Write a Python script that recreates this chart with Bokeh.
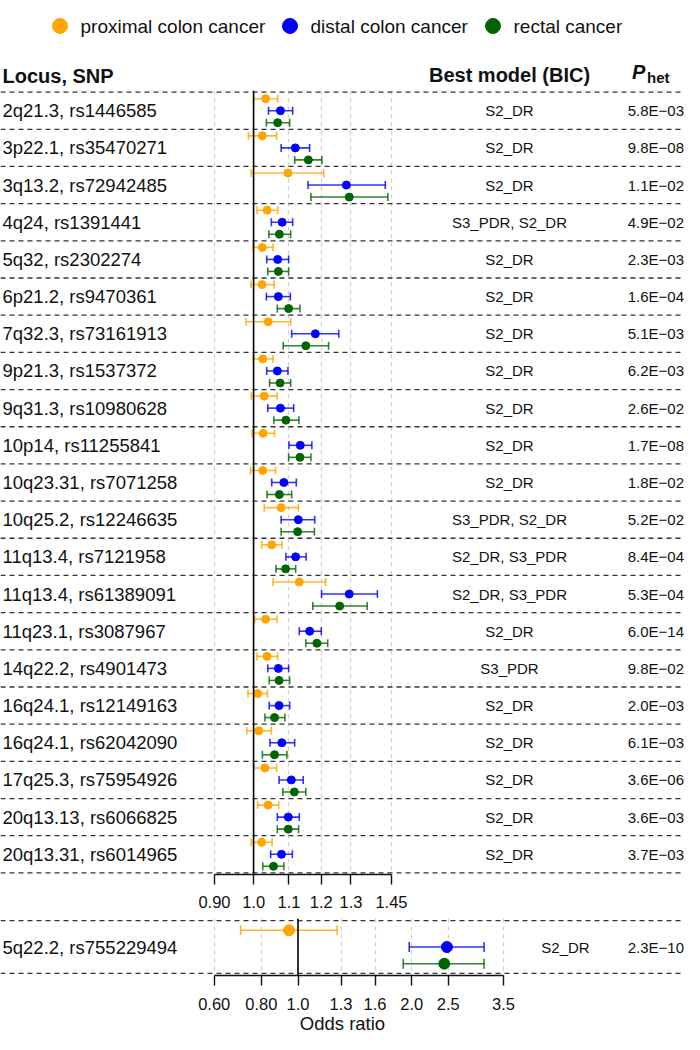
import math
from bokeh.plotting import figure
from bokeh.models import (Range1d, LinearScale, FixedTicker, CustomJSTickFormatter,
                          Span, Whisker, TeeHead, ColumnDataSource)
from bokeh.layouts import column
from bokeh.embed import file_html
from bokeh.resources import INLINE
from bokeh.core.properties import value

# ---------------- data ----------------
series_names = ["proximal colon cancer", "distal colon cancer", "rectal cancer"]
series_colors = ["#FFA500", "#0000FF", "#006400"]

loci = ["2q21.3, rs1446585", "3p22.1, rs35470271", "3q13.2, rs72942485", "4q24, rs1391441",
        "5q32, rs2302274", "6p21.2, rs9470361", "7q32.3, rs73161913", "9p21.3, rs1537372",
        "9q31.3, rs10980628", "10p14, rs11255841", "10q23.31, rs7071258", "10q25.2, rs12246635",
        "11q13.4, rs7121958", "11q13.4, rs61389091", "11q23.1, rs3087967", "14q22.2, rs4901473",
        "16q24.1, rs12149163", "16q24.1, rs62042090", "17q25.3, rs75954926", "20q13.13, rs6066825",
        "20q13.31, rs6014965"]
models = ["S2_DR", "S2_DR", "S2_DR", "S3_PDR, S2_DR", "S2_DR", "S2_DR", "S2_DR", "S2_DR",
          "S2_DR", "S2_DR", "S2_DR", "S3_PDR, S2_DR", "S2_DR, S3_PDR", "S2_DR, S3_PDR", "S2_DR",
          "S3_PDR", "S2_DR", "S2_DR", "S2_DR", "S2_DR", "S2_DR"]
p_het = ["5.8E\u221203", "9.8E\u221208", "1.1E\u221202", "4.9E\u221202", "2.3E\u221203", "1.6E\u221204",
         "5.1E\u221203", "6.2E\u221203", "2.6E\u221202", "1.7E\u221208", "1.8E\u221202", "5.2E\u221202",
         "8.4E\u221204", "5.3E\u221204", "6.0E\u221214", "9.8E\u221202", "2.0E\u221203", "6.1E\u221203",
         "3.6E\u221206", "3.6E\u221203", "3.7E\u221203"]

proximal_or = [1.033, 1.024, 1.097, 1.037, 1.024, 1.023, 1.040, 1.025, 1.029, 1.026, 1.025,
               1.077, 1.050, 1.131, 1.033, 1.037, 1.011, 1.014, 1.031, 1.040, 1.022]
proximal_lo = [1.000, 0.986, 0.994, 1.009, 0.998, 0.993, 0.980, 0.999, 0.994, 0.996, 0.992,
               1.029, 1.022, 1.054, 1.003, 1.009, 0.985, 0.982, 1.000, 1.011, 0.994]
proximal_hi = [1.067, 1.064, 1.208, 1.067, 1.054, 1.057, 1.105, 1.054, 1.065, 1.058, 1.061,
               1.128, 1.079, 1.214, 1.065, 1.067, 1.038, 1.049, 1.064, 1.070, 1.051]

distal_or = [1.075, 1.119, 1.284, 1.080, 1.067, 1.069, 1.181, 1.066, 1.075, 1.134, 1.085,
             1.128, 1.120, 1.294, 1.163, 1.069, 1.071, 1.079, 1.107, 1.098, 1.078]
distal_lo = [1.041, 1.077, 1.158, 1.049, 1.036, 1.035, 1.108, 1.036, 1.039, 1.100, 1.050,
             1.077, 1.091, 1.201, 1.131, 1.039, 1.043, 1.045, 1.071, 1.066, 1.047]
distal_hi = [1.111, 1.163, 1.426, 1.111, 1.099, 1.104, 1.258, 1.097, 1.114, 1.170, 1.122,
             1.179, 1.152, 1.396, 1.200, 1.099, 1.102, 1.117, 1.143, 1.131, 1.110]

rectal_or = [1.067, 1.159, 1.294, 1.072, 1.069, 1.099, 1.151, 1.074, 1.091, 1.133, 1.072,
             1.126, 1.090, 1.261, 1.186, 1.071, 1.058, 1.058, 1.116, 1.098, 1.055]
rectal_lo = [1.035, 1.117, 1.167, 1.042, 1.039, 1.066, 1.083, 1.044, 1.056, 1.099, 1.037,
             1.077, 1.062, 1.173, 1.151, 1.043, 1.031, 1.024, 1.082, 1.066, 1.025]
rectal_hi = [1.102, 1.202, 1.436, 1.105, 1.099, 1.133, 1.224, 1.105, 1.130, 1.167, 1.108,
             1.178, 1.120, 1.358, 1.221, 1.102, 1.088, 1.094, 1.151, 1.129, 1.085]

top_ticks = [0.90, 1.0, 1.1, 1.2, 1.3, 1.45]
top_tick_labels = ["0.90", "1.0", "1.1", "1.2", "1.3", "1.45"]

b_loci = ["5q22.2, rs755229494"]
b_models = ["S2_DR"]
b_p_het = ["2.3E\u221210"]
b_proximal_or, b_proximal_lo, b_proximal_hi = [0.947], [0.705], [1.27]
b_distal_or, b_distal_lo, b_distal_hi = [2.48], [1.97], [3.11]
b_rectal_or, b_rectal_lo, b_rectal_hi = [2.44], [1.90], [3.11]

bottom_ticks = [0.60, 0.80, 1.0, 1.3, 1.6, 2.0, 2.5, 3.5]
bottom_tick_labels = ["0.60", "0.80", "1.0", "1.3", "1.6", "2.0", "2.5", "3.5"]

null_or = 1.0

# ---------------- layout ----------------
W = 684
FONT = "Liberation Sans"
TXT = "#111111"
P_RIGHT = 683.5


def make_panel(labels, mdl, pv, series, ticks, tick_labels, one_x, px_per_ln, row_px,
               frame_h, border_bottom, model_x, pt_size, cap, dy, label_standoff,
               axis_label=None):
    n = len(labels)
    e = (frame_h / row_px - n) / 2.0
    xlo = math.exp(-one_x / px_per_ln)
    xhi = math.exp((W - one_x) / px_per_ln)
    p = figure(frame_width=W, frame_height=frame_h, x_axis_type="log",
               x_range=Range1d(xlo, xhi), y_range=Range1d(n + e, -e),
               output_backend="svg", toolbar_location=None, y_axis_location=None,
               min_border=0, min_border_bottom=border_bottom)
    p.extra_x_ranges = {"px": Range1d(0, W)}
    p.extra_x_scales = {"px": LinearScale()}
    p.outline_line_color = None
    p.background_fill_color = "white"
    p.border_fill_color = "white"

    ax = p.xaxis[0]
    ax.ticker = FixedTicker(ticks=ticks, minor_ticks=[])
    ax.formatter = CustomJSTickFormatter(
        args=dict(tv=ticks, tl=tick_labels),
        code="const i = tv.findIndex(t => Math.abs(t - tick) < 1e-9); return i >= 0 ? tl[i] : '';")
    ax.bounds = (ticks[0], ticks[-1])
    ax.major_tick_out = 10
    ax.major_tick_in = 0
    ax.minor_tick_out = 0
    ax.minor_tick_in = 0
    ax.axis_line_color = TXT
    ax.axis_line_width = 1.4
    ax.major_tick_line_color = TXT
    ax.major_tick_line_width = 1.4
    ax.major_label_text_font = FONT
    ax.major_label_text_font_size = "16.5px"
    ax.major_label_text_color = TXT
    ax.major_label_standoff = label_standoff
    if axis_label:
        ax.axis_label = axis_label
        ax.axis_label_text_font = FONT
        ax.axis_label_text_font_size = "18.5px"
        ax.axis_label_text_font_style = "normal"
        ax.axis_label_text_color = TXT
        ax.axis_label_standoff = 0

    g = p.xgrid[0]
    g.ticker = FixedTicker(ticks=ticks, minor_ticks=[])
    g.bounds = (xlo, xhi)
    g.grid_line_color = "#cfcfcf"
    g.grid_line_dash = "4 4"
    g.grid_line_width = 1.2
    p.ygrid.visible = False

    for k in range(n + 1):
        p.add_layout(Span(location=k, dimension="width", line_color="#333333",
                          line_dash="5 4", line_width=1.3))
    p.add_layout(Span(location=null_or, dimension="height", line_color="black",
                      line_width=1.6))

    offsets = [-dy, 0.0, dy]
    for (vals, lo, hi), color, off in zip(series, series_colors, offsets):
        src = ColumnDataSource(dict(y=[i + 0.5 + off for i in range(n)], x=vals, lo=lo, hi=hi))
        w = Whisker(source=src, base="y", lower="lo", upper="hi", dimension="width",
                    line_color=color, line_alpha=0.8, line_width=1.6,
                    upper_head=TeeHead(size=cap, line_color=color, line_alpha=0.8, line_width=1.6),
                    lower_head=TeeHead(size=cap, line_color=color, line_alpha=0.8, line_width=1.6))
        p.add_layout(w)
        p.scatter("x", "y", source=src, size=pt_size, fill_color=color, line_color=color)

    ys = [i + 0.5 for i in range(n)]
    p.text(x=[2] * n, y=ys, text=labels, x_range_name="px", text_font=value(FONT),
           text_font_size="18.5px", text_baseline="middle", text_align="left",
           text_color=TXT)
    p.text(x=[model_x] * n, y=ys, text=mdl, x_range_name="px", text_font=value(FONT),
           text_font_size="15px", text_baseline="middle", text_align="center",
           text_color=TXT)
    p.text(x=[P_RIGHT] * n, y=ys, text=pv, x_range_name="px", text_font=value(FONT),
           text_font_size="15px", text_baseline="middle", text_align="right",
           text_color=TXT)
    return p


# header with legend and column titles
HH = 90
h = figure(frame_width=W, frame_height=HH, x_range=Range1d(0, W), y_range=Range1d(HH, 0),
           output_backend="svg", toolbar_location=None, x_axis_location=None,
           y_axis_location=None, min_border=0)
h.grid.visible = False
h.outline_line_color = None
h.scatter(x=[59.5, 289.5, 492.5], y=[25.5] * 3, size=15, fill_color=series_colors,
          line_color=series_colors)
h.text(x=[80, 310, 513], y=[25.5] * 3, text=series_names, text_font=value(FONT),
       text_font_size="19px", text_baseline="middle", text_align="left", text_color=TXT)
h.text(x=[2], y=[75], text=["Locus, SNP"], text_font=value(FONT), text_font_size="20px",
       text_font_style="bold", text_baseline="middle", text_color=TXT)
h.text(x=[509], y=[74.5], text=["Best model (BIC)"], text_font=value(FONT), text_font_size="20px",
       text_font_style="bold", text_baseline="middle", text_align="center", text_color=TXT)
h.text(x=[631.5], y=[71.5], text=["P"], text_font=value(FONT), text_font_size="20px",
       text_font_style="bold italic", text_baseline="middle", text_color=TXT)
h.text(x=[646.5], y=[76.5], text=["het"], text_font=value(FONT), text_font_size="15px",
       text_font_style="bold", text_baseline="middle", text_color=TXT)

top = make_panel(loci, models, p_het,
                 [(proximal_or, proximal_lo, proximal_hi),
                  (distal_or, distal_lo, distal_hi),
                  (rectal_or, rectal_lo, rectal_hi)],
                 top_ticks, top_tick_labels, one_x=253.1, px_per_ln=371.1, row_px=37.18,
                 frame_h=784, border_bottom=44, model_x=509, pt_size=8, cap=8, dy=0.323,
                 label_standoff=11)

bottom = make_panel(b_loci, b_models, b_p_het,
                    [(b_proximal_or, b_proximal_lo, b_proximal_hi),
                     (b_distal_or, b_distal_lo, b_distal_hi),
                     (b_rectal_or, b_rectal_lo, b_rectal_hi)],
                    bottom_ticks, bottom_tick_labels, one_x=297.5, px_per_ln=164.0, row_px=52.7,
                    frame_h=57, border_bottom=59, model_x=565, pt_size=11, cap=10, dy=0.317,
                    label_standoff=12, axis_label="Odds ratio")

layout = column(h, top, bottom, spacing=0)
open("out.html", "w").write(file_html(layout, INLINE))
